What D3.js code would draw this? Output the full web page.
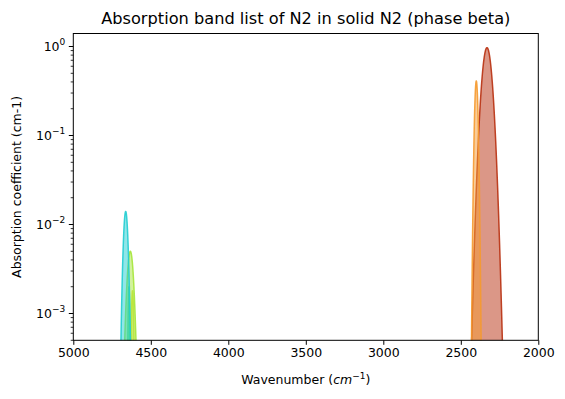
<!DOCTYPE html>
<html>
<head>
<meta charset="utf-8">
<script src="https://cdn.jsdelivr.net/npm/d3@7"></script>
<style>
body{margin:0;background:#fff;}
text{font-family:"DejaVu Sans",sans-serif;fill:#000;}
</style>
</head>
<body>
<div id="chart"></div>
<script>
// band list (wavenumber cm-1, FWHM cm-1, peak cm-1)
let bandCenters = [4618, 4632, 4641, 4662, 2331, 2400];
let bandWidths  = [14, 40, 10, 28, 60, 20];
let bandPeaks   = [0.0018, 0.005, 0.002, 0.014, 0.97, 0.41];
let bandColors  = ["#d2e23c", "#a6e63a", "#62e06a", "#22cdd2", "#b8300f", "#f59a30"];

let xTicks = [5000, 4500, 4000, 3500, 3000, 2500, 2000];
let yDecades = [-3, -2, -1, 0];

let width = 565, height = 399;
let margin = {left: 73.3, right: 26.7, top: 33.5, bottom: 58.7};

let svg = d3.select("#chart").append("svg")
    .attr("width", width).attr("height", height);

let x = d3.scaleLinear().domain([5000, 2000]).range([margin.left, width-margin.right]);
let y = d3.scaleLog().domain([5e-4, 1.4]).range([height-margin.bottom, margin.top]);

svg.append("defs").append("clipPath").attr("id", "plotclip")
  .append("rect")
    .attr("x", margin.left).attr("y", margin.top)
    .attr("width", width-margin.left-margin.right)
    .attr("height", height-margin.top-margin.bottom);

let plot = svg.append("g").attr("clip-path", "url(#plotclip)");

let floorY = y.range()[0];
let area = d3.area()
    .x(function(d){ return x(d[0]); })
    .y0(floorY + 5)
    .y1(function(d){ return Math.min(floorY + 5, y(Math.max(d[1], 1e-12))); });
let line = d3.line()
    .x(function(d){ return x(d[0]); })
    .y(function(d){ return Math.min(floorY + 5, y(Math.max(d[1], 1e-12))); });

bandCenters.forEach(function(c, i){
    let sigma = bandWidths[i]/2.3548;
    let pts = d3.range(c-6*sigma, c+6*sigma, sigma/60).map(function(w){
        return [w, bandPeaks[i]*Math.exp(-0.5*Math.pow((w-c)/sigma, 2))];
    });
    plot.append("path")
        .attr("d", area(pts))
        .attr("fill", bandColors[i])
        .attr("fill-opacity", 0.5)
        .attr("stroke", "none");
    plot.append("path")
        .attr("d", line(pts))
        .attr("fill", "none")
        .attr("stroke", bandColors[i])
        .attr("stroke-opacity", 0.9)
        .attr("stroke-width", 1.5);
});

// x axis
let xAxis = svg.append("g")
    .attr("transform", "translate(0," + floorY + ")")
    .call(d3.axisBottom(x).tickValues(xTicks).tickSize(4.5).tickPadding(3).tickFormat(d3.format("d")));
xAxis.select(".domain").remove();
xAxis.selectAll(".tick line").attr("stroke", "#000").attr("stroke-width", 1);
xAxis.selectAll(".tick text").attr("font-size", 12.5).attr("font-family", "DejaVu Sans").attr("fill", "#000");

// y axis: majors with superscript labels, minors 2..9
let yAxis = svg.append("g").attr("transform", "translate(" + margin.left + ",0)");
let minors = [];
for (let k = -4; k <= 0; k++) {
    for (let m = 2; m <= 9; m++) {
        let v = m*Math.pow(10, k);
        if (v >= 5e-4 && v <= 1.4) minors.push(v);
    }
}
yAxis.selectAll(".minor").data(minors).enter().append("line")
    .attr("class", "minor")
    .attr("x1", -2.6).attr("x2", 0)
    .attr("y1", function(d){ return y(d); }).attr("y2", function(d){ return y(d); })
    .attr("stroke", "#000").attr("stroke-width", 0.8);
yAxis.selectAll(".major").data(yDecades).enter().append("line")
    .attr("class", "major")
    .attr("x1", -4.5).attr("x2", 0)
    .attr("y1", function(d){ return y(Math.pow(10, d)); }).attr("y2", function(d){ return y(Math.pow(10, d)); })
    .attr("stroke", "#000").attr("stroke-width", 1);
let ylab = yAxis.selectAll(".ylab").data(yDecades).enter().append("text")
    .attr("class", "ylab")
    .attr("x", -8)
    .attr("y", function(d){ return y(Math.pow(10, d)) + 4.5; })
    .attr("text-anchor", "end")
    .attr("font-size", 12.5);
ylab.append("tspan").text("10");
ylab.append("tspan").attr("dy", -6).attr("font-size", 9)
    .text(function(d){ return d < 0 ? "\u2212" + (-d) : String(d); });

// frame
svg.append("rect")
    .attr("x", margin.left).attr("y", margin.top)
    .attr("width", width-margin.left-margin.right)
    .attr("height", height-margin.top-margin.bottom)
    .attr("fill", "none").attr("stroke", "#000").attr("stroke-width", 1);

// labels
svg.append("text")
    .attr("x", (margin.left + width - margin.right)/2).attr("y", 23.5)
    .attr("text-anchor", "middle").attr("font-size", 16.2)
    .text("Absorption band list of N2 in solid N2 (phase beta)");

let xl = svg.append("text")
    .attr("x", (margin.left + width - margin.right)/2).attr("y", 384)
    .attr("text-anchor", "middle").attr("font-size", 12.5);
xl.append("tspan").text("Wavenumber (");
xl.append("tspan").attr("font-style", "italic").text("cm");
xl.append("tspan").attr("dy", -5).attr("font-size", 9).text("\u22121");
xl.append("tspan").attr("dy", 5).text(")");

svg.append("text")
    .attr("transform", "translate(21," + ((margin.top + height - margin.bottom)/2) + ") rotate(-90)")
    .attr("text-anchor", "middle").attr("font-size", 12.5)
    .text("Absorption coefficient (cm-1)");
</script>
</body>
</html>
